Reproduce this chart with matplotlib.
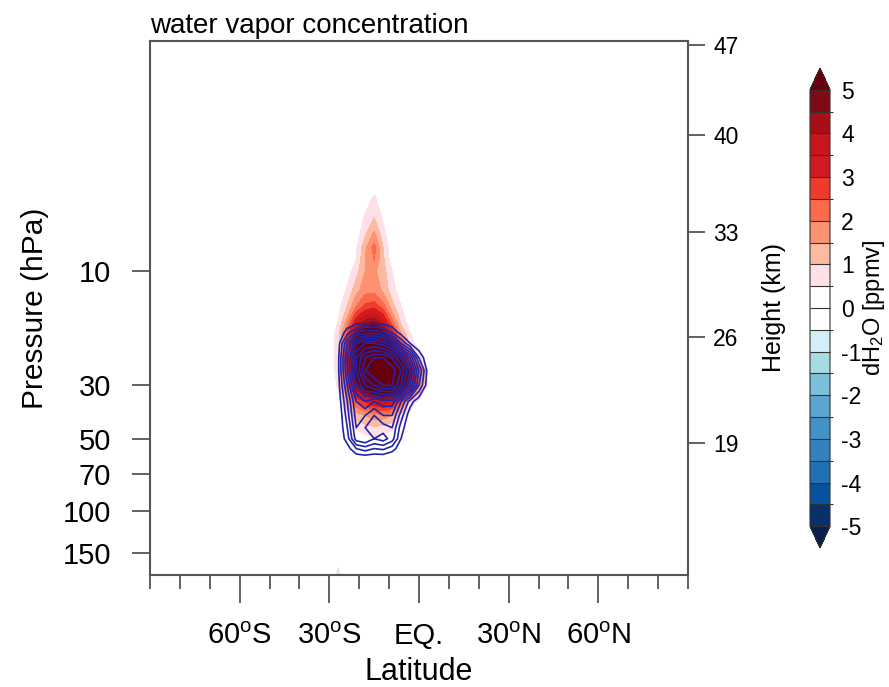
import numpy as np
import matplotlib
matplotlib.use("Agg")
import matplotlib.pyplot as plt
from matplotlib.colors import ListedColormap, BoundaryNorm

plt.rcParams['font.family'] = ['Liberation Sans', 'DejaVu Sans']
plt.rcParams['mathtext.fontset'] = 'custom'
plt.rcParams['mathtext.rm'] = 'Liberation Sans'
plt.rcParams['mathtext.it'] = 'Liberation Sans:italic'

# grid
lats = [-30, -27, -24, -21, -18, -15, -12, -9, -6, -3, 0, 3, 6]
plevs = [4, 5, 6, 7, 8, 9, 10, 12, 14, 16, 18, 20, 23, 26, 30, 35, 40, 45,
         50, 55, 60, 65, 100, 150, 190]

# water vapour anomaly (ppmv), one row per pressure level
dh2o = [
    [0, 0, 0, 0, 0, 0, 0, 0, 0, 0, 0, 0, 0],
    [0, 0, 0, 0, 0.2, 0.6, 0.1, 0, 0, 0, 0, 0, 0],
    [0, 0, 0, 0, 0.6, 1.0, 0.4, 0, 0, 0, 0, 0, 0],
    [0, 0, 0, 0.2, 0.9, 1.6, 0.7, 0, 0, 0, 0, 0, 0],
    [0, 0, 0, 0.4, 1.4, 2.2, 1.0, 0.1, 0, 0, 0, 0, 0],
    [0, 0, 0, 0.5, 1.5, 2.0, 1.1, 0.2, 0, 0, 0, 0, 0],
    [0, 0, 0.2, 0.8, 1.5, 1.6, 1.2, 0.5, 0, 0, 0, 0, 0],
    [0, 0, 0.6, 1.3, 1.8, 1.8, 1.4, 0.7, 0.2, 0, 0, 0, 0],
    [0, 0.3, 1.0, 2.0, 2.6, 2.8, 2.2, 1.2, 0.5, 0.1, 0, 0, 0],
    [0, 0.5, 1.6, 3.2, 4.0, 4.2, 3.5, 2.0, 0.8, 0.2, 0, 0, 0],
    [0, 0.8, 2.5, 4.5, 5.5, 6.0, 5.0, 3.2, 1.4, 0.5, 0, 0, 0],
    [0, 0.8, 3.0, 5.5, 6.5, 7.0, 6.5, 4.8, 2.5, 0.8, 0.1, 0, 0],
    [0, 0.8, 3.2, 6.0, 7.0, 7.5, 7.2, 6.2, 4.8, 2.8, 0.9, 0, 0],
    [0, 0.8, 3.0, 6.0, 7.0, 7.5, 7.5, 7.0, 6.2, 4.8, 2.2, 0.5, 0],
    [0, 0.6, 2.5, 4.5, 5.5, 6.5, 7.0, 6.8, 6.0, 4.0, 1.8, 0.3, 0],
    [0, 0.2, 1.5, 2.5, 3.0, 3.5, 3.8, 3.5, 2.5, 1.0, 0.3, 0, 0],
    [0, 0, 0.6, 1.2, 1.5, 1.8, 1.8, 1.5, 0.8, 0.2, 0, 0, 0],
    [0, 0, 0.2, 0.6, 0.8, 0.9, 0.8, 0.6, 0.2, 0, 0, 0, 0],
    [0, 0, 0, 0.1, 0.3, 0.4, 0.3, 0.1, 0, 0, 0, 0, 0],
    [0, 0, 0, 0, 0, 0, 0, 0, 0, 0, 0, 0, 0],
    [0, 0, 0, 0, 0, 0, 0, 0, 0, 0, 0, 0, 0],
    [0, 0, 0, 0, 0, 0, 0, 0, 0, 0, 0, 0, 0],
    [0, 0, 0, 0, 0, 0, 0, 0, 0, 0, 0, 0, 0],
    [0, 0, 0, 0, 0, 0, 0, 0, 0, 0, 0, 0, 0],
    [0, -1.1, 0, 0, 0, 0, 0, 0, 0, 0, 0, 0, 0],
]

# overlaid field drawn as blue lines
overlay = [
    [0, 0, 0, 0, 0, 0, 0, 0, 0, 0, 0, 0, 0],
    [0, 0, 0, 0, 0, 0, 0, 0, 0, 0, 0, 0, 0],
    [0, 0, 0, 0, 0, 0, 0, 0, 0, 0, 0, 0, 0],
    [0, 0, 0, 0, 0, 0, 0, 0, 0, 0, 0, 0, 0],
    [0, 0, 0, 0, 0, 0, 0, 0, 0, 0, 0, 0, 0],
    [0, 0, 0, 0, 0, 0, 0, 0, 0, 0, 0, 0, 0],
    [0, 0, 0, 0, 0, 0, 0, 0, 0, 0, 0, 0, 0],
    [0, 0, 0, 0, 0, 0, 0, 0, 0, 0, 0, 0, 0],
    [0, 0, 0, 0, 0, 0, 0, 0, 0, 0, 0, 0, 0],
    [0, 0, 0, 0, 0, 0, 0, 0, 0, 0, 0, 0, 0],
    [0, 0, 1.5, 3, 3.5, 3.5, 3, 1.8, 0.5, 0, 0, 0, 0],
    [0, 0.5, 4, 7, 8, 8, 7.5, 6, 3, 1, 0, 0, 0],
    [0, 0.8, 5, 9, 11, 12, 12, 11, 9, 6, 2, 0, 0],
    [0, 0.8, 5, 9, 12, 13, 13, 12.5, 11, 8, 4, 0.5, 0],
    [0, 0.6, 4, 8, 10, 11, 12, 12, 10, 7, 3, 0.3, 0],
    [0, 0.3, 3, 6, 7, 6, 6.5, 6.5, 4, 1.5, 0.2, 0, 0],
    [0, 0, 2.5, 5.5, 5, 4, 5, 5, 2.5, 0.3, 0, 0, 0],
    [0, 0, 2, 5, 4, 3, 3.5, 4, 1.5, 0, 0, 0, 0],
    [0, 0, 1.5, 4.5, 5, 4, 4.5, 3.5, 1, 0, 0, 0, 0],
    [0, 0, 0.5, 2, 2.5, 2, 2.2, 1.5, 0.3, 0, 0, 0, 0],
    [0, 0, 0, 0.3, 0.4, 0.3, 0.3, 0, 0, 0, 0, 0, 0],
    [0, 0, 0, 0, 0, 0, 0, 0, 0, 0, 0, 0, 0],
    [0, 0, 0, 0, 0, 0, 0, 0, 0, 0, 0, 0, 0],
    [0, 0, 0, 0, 0, 0, 0, 0, 0, 0, 0, 0, 0],
    [0, 0, 0, 0, 0, 0, 0, 0, 0, 0, 0, 0, 0],
]

levels = np.arange(-5, 5.01, 0.5)
line_levels = np.arange(1, 13, 1)

# 9 blues, two whites around zero, 9 reds
blues = ['#08306b', '#08519c', '#2171b5', '#3182bd', '#4292c6',
         '#5aa5d2', '#7bc0d8', '#a6dbe2', '#d4eef9']
reds = ['#fee0e6', '#fcbba1', '#fc9272', '#fb6a4a', '#ef3b2c',
        '#d21a22', '#c8161d', '#a50f15', '#7f0a14']
cmap = ListedColormap(blues + ['#ffffff', '#ffffff'] + reds)
cmap.set_under('#08204a')
cmap.set_over('#67000d')
norm = BoundaryNorm(levels, cmap.N)

fig = plt.figure(figsize=(8.89, 6.87), dpi=100)
ax = fig.add_axes([150 / 889, 112 / 687, 538 / 889, 534 / 687])

X, Y = np.meshgrid(lats, plevs)
cf = ax.contourf(X, Y, np.array(dh2o), levels=levels, cmap=cmap, norm=norm, extend='both')
ax.contour(X, Y, np.array(overlay), levels=line_levels, colors='#2424a8', linewidths=1.2)

ax.set_yscale('log')
ax.set_ylim(185, 1.1)
ax.set_xlim(-90, 90)

ax.set_yticks([10, 30, 50, 70, 100, 150])
ax.set_yticklabels(['10', '30', '50', '70', '100', '150'])
ax.yaxis.set_minor_locator(matplotlib.ticker.NullLocator())
ax.set_xticks([-60, -30, 0, 30, 60])
ax.set_xticklabels([r'60$^{\mathrm{o}}$S', r'30$^{\mathrm{o}}$S', 'EQ.',
                    r'30$^{\mathrm{o}}$N', r'60$^{\mathrm{o}}$N'])
ax.set_xticks(np.arange(-90, 91, 10), minor=True)
ax.tick_params(axis='y', which='major', labelsize=21, length=13, width=1.3,
               color='#555555', direction='out', pad=15)
ax.tick_params(axis='x', which='major', labelsize=21, length=20, width=1.3,
               color='#555555', direction='out', pad=14)
ax.tick_params(axis='x', which='minor', length=10, width=1.3, color='#555555')
ax.tick_params(right=False, top=False)
for s in ax.spines.values():
    s.set_color('#555555')
    s.set_linewidth(1.5)

ax.set_ylabel('Pressure (hPa)', fontsize=21.5, labelpad=10)
ax.set_xlabel('Latitude', fontsize=22, labelpad=5)
ax.set_title('water vapor concentration', fontsize=20, loc='left', pad=6)

# height axis on the right
height_labels = ['47', '40', '33', '26', '19']
height_p = [1.147, 2.72, 6.9, 18.9, 52.1]
ax2 = ax.twinx()
ax2.set_yscale('log')
ax2.set_ylim(185, 1.1)
ax2.set_yticks(height_p)
ax2.set_yticklabels(height_labels)
ax2.yaxis.set_minor_locator(matplotlib.ticker.NullLocator())
ax2.tick_params(axis='y', labelsize=16.5, length=12, width=1.3, color='#555555', pad=6)
ax2.set_ylabel('Height (km)', fontsize=18, labelpad=17)
for s in ax2.spines.values():
    s.set_visible(False)

cax = fig.add_axes([810 / 889, 139 / 687, 20 / 889, 480 / 687])
cb = fig.colorbar(cf, cax=cax, ticks=np.arange(-5, 6, 1), drawedges=True, extendfrac=0.05)
cb.ax.set_yticklabels([str(v) for v in range(-5, 6)])
cb.ax.tick_params(length=0, labelsize=16.5, pad=8)
cb.outline.set_edgecolor('#333333')
cb.outline.set_linewidth(0.8)
cb.dividers.set_color('#333333')
cb.dividers.set_linewidth(0.8)
cb.set_label(r'dH$_2$O [ppmv]', fontsize=17, labelpad=0)

fig.savefig('out.png', dpi=100)
